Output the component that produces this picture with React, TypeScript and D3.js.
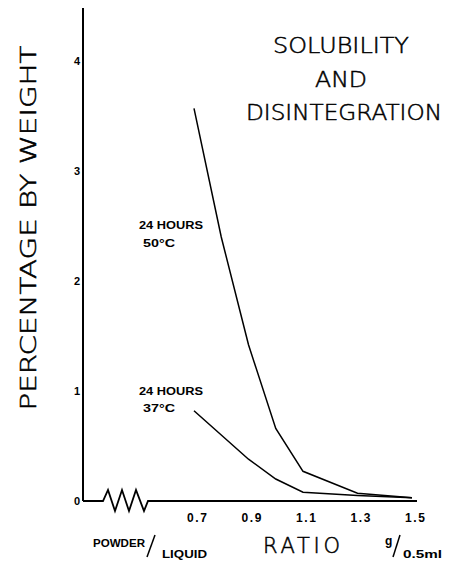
import * as d3 from 'd3'

// powder/liquid ratio, g per 0.5 ml
const ratio50 = [0.7, 0.8, 0.9, 1.0, 1.1, 1.3, 1.5]
const loss50 = [3.57, 2.4, 1.42, 0.66, 0.27, 0.07, 0.03]
const ratio37 = [0.7, 0.9, 1.0, 1.1, 1.3, 1.5]
const loss37 = [0.82, 0.38, 0.2, 0.08, 0.05, 0.03]
const xTicks = [0.7, 0.9, 1.1, 1.3, 1.5]
const yTicks = [0, 1, 2, 3, 4]

const W = 449
const H = 561
const FONT = '"Liberation Sans", Arial, sans-serif'
const THIN = '"DejaVu Sans", sans-serif'

export default function App() {
  const x = d3.scaleLinear().domain([0.7, 1.5]).range([194, 412])
  const y = d3.scaleLinear().domain([0, 4]).range([501, 61])
  const axisX = 83
  const y0 = y(0)

  const line = d3
    .line<[number, number]>()
    .x(d => x(d[0]))
    .y(d => y(d[1]))

  const s50 = ratio50.map((r, i) => [r, loss50[i]] as [number, number])
  const s37 = ratio37.map((r, i) => [r, loss37[i]] as [number, number])

  // axis break on the baseline
  const zig = [
    [axisX, y0], [103, y0], [108, y0 - 11], [115, y0 + 10], [122, y0 - 11],
    [129, y0 + 10], [136, y0 - 11], [144, y0 + 10], [148, y0], [417, y0]
  ]
  const baseline = d3.line()(zig as [number, number][]) ?? ''

  const thin = { fontFamily: THIN, fontWeight: 200, stroke: '#000', strokeWidth: 0.5 }

  return (
    <svg
      width={W}
      height={H}
      style={{ position: 'absolute', left: 0, top: 0, background: '#fff' }}
      fontFamily={FONT}
    >
      {/* y axis */}
      <line x1={axisX} y1={8} x2={axisX} y2={y0} stroke="#000" strokeWidth={2} />
      <path d={baseline} fill="none" stroke="#000" strokeWidth={1.8} strokeLinejoin="miter" />

      {yTicks.map(t => (
        <text key={t} x={80} y={y(t) + 4} textAnchor="end" fontSize={11} fontWeight="bold">
          {t}
        </text>
      ))}
      {xTicks.map(t => (
        <text key={t} x={x(t) + 3} y={522} textAnchor="middle" fontSize={12} fontWeight="bold"
          textLength={20} lengthAdjust="spacing">
          {t.toFixed(1)}
        </text>
      ))}

      {/* curves */}
      <path d={line(s50) ?? ''} fill="none" stroke="#000" strokeWidth={1.5} />
      <path d={line(s37) ?? ''} fill="none" stroke="#000" strokeWidth={1.5} />

      <g fontSize={11} fontWeight="bold">
        <text x={139} y={229} textLength={64} lengthAdjust="spacingAndGlyphs">24 HOURS</text>
        <text x={143} y={247} textLength={32} lengthAdjust="spacingAndGlyphs">50°C</text>
        <text x={139} y={395} textLength={64} lengthAdjust="spacingAndGlyphs">24 HOURS</text>
        <text x={143} y={412} textLength={32} lengthAdjust="spacingAndGlyphs">37°C</text>
      </g>

      {/* title */}
      <g fontSize={21} {...thin}>
        <text x={273} y={53} textLength={136} lengthAdjust="spacingAndGlyphs">SOLUBILITY</text>
        <text x={315} y={87} textLength={52} lengthAdjust="spacingAndGlyphs">AND</text>
        <text x={246} y={120} textLength={196} lengthAdjust="spacingAndGlyphs">DISINTEGRATION</text>
      </g>

      {/* y title */}
      <text
        transform="translate(36,228) rotate(-90)"
        textAnchor="middle"
        fontSize={21}
        {...thin}
        textLength={365}
        lengthAdjust="spacingAndGlyphs"
      >
        PERCENTAGE BY WEIGHT
      </text>

      {/* x title */}
      <text x={93} y={547} fontSize={10} fontWeight="bold" textLength={52} lengthAdjust="spacingAndGlyphs">POWDER</text>
      <line x1={155} y1={535} x2={147} y2={557} stroke="#000" strokeWidth={1.5} />
      <text x={162} y={558} fontSize={10} fontWeight="bold" textLength={45} lengthAdjust="spacingAndGlyphs">LIQUID</text>
      <text x={263} y={553} fontSize={21} {...thin} textLength={77} lengthAdjust="spacing">RATIO</text>
      <text x={385} y={545} fontSize={12} fontWeight="bold">g</text>
      <line x1={400} y1={535} x2={393} y2={557} stroke="#000" strokeWidth={1.5} />
      <text x={403} y={558} fontSize={11} fontWeight="bold" textLength={39} lengthAdjust="spacingAndGlyphs">0.5ml</text>
    </svg>
  )
}
